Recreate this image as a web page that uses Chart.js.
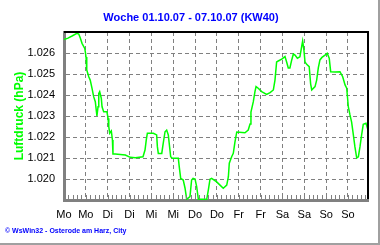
<!DOCTYPE html>
<html>
<head>
<meta charset="utf-8">
<script src="https://cdn.jsdelivr.net/npm/chart.js@4/dist/chart.umd.min.js"></script>
<style>
html,body{margin:0;padding:0;background:#fff;}
canvas{display:block;}
</style>
</head>
<body>
<canvas id="c" width="380" height="245" style="width:380px;height:245px"></canvas>
<script>
// ---- data ----
const titleText = 'Woche 01.10.07 - 07.10.07 (KW40)';
const yAxisTitle = 'Luftdruck (hPa)';
const footerText = '\u00A9 WsWin32 - Osterode am Harz, City';
const dayLabels = ['Mo','Mo','Di','Di','Mi','Mi','Do','Do','Fr','Fr','Sa','Sa','So','So'];
const yMin = 1019, yMax = 1027;
const xMax = 167; // hours since Monday 00:00

const hours = [0,2.2,4.4,7.1,8.1,9.0,9.9,11.4,11.7,12.1,12.4,12.6,13.6,14.4,15.4,16.3,17.2,17.7,18.1,18.7,
  19.1,19.6,20.5,20.9,21.8,23.6,24.2,24.6,25.1,26.0,26.6,26.9,28.2,33.7,36.4,39.2,43.4,44.5,45.2,45.8,
  49.1,50.9,51.3,51.8,53.7,54.5,55.5,56.4,57.3,57.8,58.6,59.5,62.8,63.3,64.1,65.5,66.5,67.4,69.2,70.1,
  70.9,72.0,72.9,73.8,78.4,79.3,80.2,81.1,83.9,85.7,87.5,89.4,90.3,90.8,92.1,93.0,93.9,94.9,99.4,101.2,
  102.2,102.7,104.0,104.9,105.5,106.7,108.6,111.3,113.2,115.0,115.9,116.8,117.7,119.6,121.4,122.3,123.2,124.1,125.1,126.0,
  126.9,128.2,129.6,130.6,131.1,131.8,132.4,133.3,134.7,135.5,136.1,137.9,138.8,139.7,140.6,141.7,143.4,144.6,145.7,146.5,
  148.9,151.6,153.1,154.4,155.3,156.2,157.1,158.0,158.9,159.8,160.8,161.7,162.6,163.5,164.4,165.9,167.0];

const pressure = [1026.64,1026.71,1026.81,1026.94,1026.90,1026.70,1026.46,1026.22,1026.06,1025.81,1025.52,1025.19,1024.87,1024.71,1024.32,1023.92,1023.68,1023.29,1023.00,1023.44,
  1024.08,1024.16,1023.84,1023.44,1023.20,1023.20,1022.89,1022.49,1022.18,1022.29,1021.86,1021.19,1021.19,1021.14,1021.03,1021.01,1021.06,1021.38,1021.86,1022.18,
  1022.18,1022.10,1021.54,1021.22,1021.22,1021.70,1022.25,1022.33,1022.10,1021.70,1021.06,1020.99,1020.99,1020.59,1020.03,1019.95,1019.56,1019.03,1019.16,1019.95,
  1020.03,1020.00,1019.63,1019.03,1019.03,1019.48,1019.99,1020.03,1019.86,1019.71,1019.56,1019.71,1020.11,1020.75,1021.06,1021.22,1021.76,1022.24,1022.20,1022.33,
  1022.62,1023.19,1023.68,1024.16,1024.40,1024.32,1024.16,1024.03,1024.11,1024.24,1024.71,1025.57,1025.62,1025.71,1025.83,1025.57,1025.29,1025.29,1025.67,1025.95,
  1025.90,1025.75,1025.82,1026.33,1026.57,1026.14,1025.57,1025.46,1025.35,1024.52,1024.24,1024.40,1024.71,1025.29,1025.67,1025.79,1025.90,1025.99,1025.75,1025.11,
  1025.10,1025.11,1024.87,1024.48,1024.32,1023.43,1023.05,1022.71,1022.14,1021.54,1021.00,1021.06,1021.54,1022.10,1022.60,1022.65,1022.33];

const FONT = "'Liberation Sans', Arial, sans-serif";

const decor = {
  id: 'decor',
  afterDraw(chart) {
    const ctx = chart.ctx;
    const a = chart.chartArea;
    const xs = chart.scales.x, ys = chart.scales.y;
    ctx.save();
    // minor ticks bottom axis
    ctx.strokeStyle = '#808080';
    ctx.lineWidth = 1;
    ctx.beginPath();
    for (let h = 0; h <= xMax; h += 2.4) {
      const px = Math.round(xs.getPixelForValue(h)) + 0.5;
      ctx.moveTo(px, a.bottom - 1);
      ctx.lineTo(px, a.bottom - 5);
    }
    ctx.stroke();
    // top & right black frame
    ctx.fillStyle = '#000';
    ctx.fillRect(a.left, a.top - 1, a.right - a.left + 1, 2);
    ctx.fillRect(a.right - 1, a.top - 1, 2, a.bottom - a.top);
    // outer grey frame
    ctx.fillStyle = '#a0a0a0';
    ctx.fillRect(0, 243, 380, 2);
    ctx.fillRect(378, 0, 2, 245);
    // title
    ctx.fillStyle = '#0000ff';
    ctx.font = 'bold 11px ' + FONT;
    ctx.textAlign = 'center';
    ctx.textBaseline = 'middle';
    ctx.fillText(titleText, 191, 18);
    // footer
    ctx.font = 'bold 7px ' + FONT;
    ctx.textAlign = 'left';
    ctx.fillText(footerText, 5, 231, 128);
    ctx.restore();
  }
};

new Chart(document.getElementById('c'), {
  type: 'line',
  data: {
    datasets: [{
      data: hours.map((h, i) => ({x: h, y: pressure[i]})),
      borderColor: '#00ff00',
      borderWidth: 1.5,
      pointRadius: 0,
      tension: 0,
      fill: false
    }]
  },
  options: {
    responsive: false,
    animation: false,
    devicePixelRatio: 1,
    layout: {padding: {top: 32, right: 12, left: 0, bottom: 0}},
    plugins: {legend: {display: false}, tooltip: {enabled: false}, title: {display: false}},
    scales: {
      x: {
        type: 'linear',
        min: 0, max: xMax,
        afterFit(s) { s.height = 45; },
        ticks: {
          stepSize: 12, includeBounds: false, autoSkip: false, maxRotation: 0,
          padding: 8, color: '#000', font: {family: FONT, size: 11},
          callback: v => dayLabels[Math.round(v / 12)] ?? ''
        },
        grid: {
          drawTicks: false,
          color: c => (c.tick && c.tick.value === 0) ? 'rgba(0,0,0,0)' : '#808080',
          lineWidth: 1
        },
        border: {display: true, color: '#808080', width: 3, dash: [4, 3]}
      },
      y: {
        min: yMin, max: yMax,
        afterFit(s) { s.width = 64; },
        ticks: {
          stepSize: 1, padding: 9, color: '#000', font: {family: FONT, size: 11},
          callback: v => (v === yMin || v === yMax) ? '' : (v / 1000).toFixed(3)
        },
        grid: {
          drawTicks: false,
          color: c => (c.tick && (c.tick.value === yMin || c.tick.value === yMax)) ? 'rgba(0,0,0,0)' : '#808080',
          lineWidth: 1
        },
        border: {display: true, color: '#808080', width: 3, dash: [4, 3]},
        title: {
          display: true, text: yAxisTitle, color: '#00ff00',
          font: {family: FONT, size: 12, weight: 'bold'},
          padding: {top: 12, bottom: 0}
        }
      }
    }
  },
  plugins: [decor]
});
</script>
</body>
</html>
